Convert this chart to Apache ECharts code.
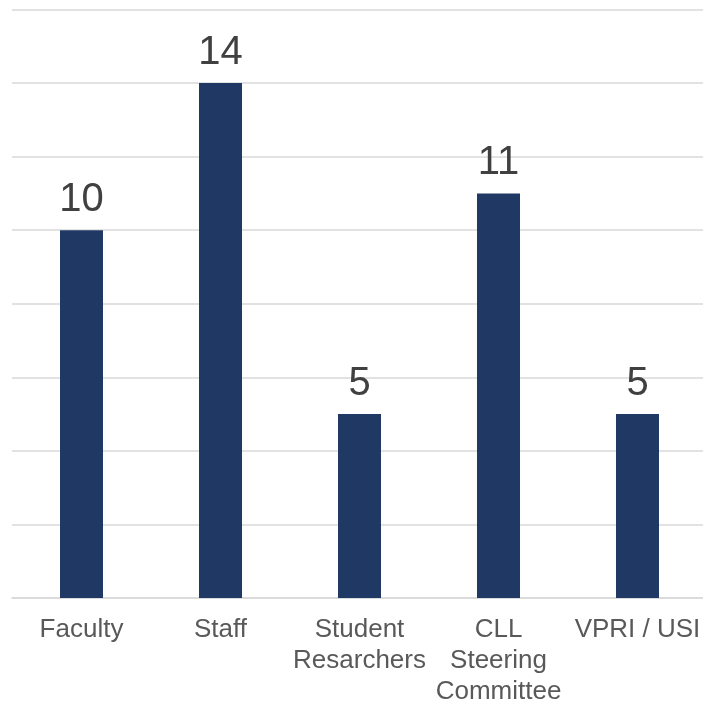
<!DOCTYPE html>
<html>
<head>
<meta charset="utf-8">
<script src="https://cdn.jsdelivr.net/npm/echarts@6/dist/echarts.min.js"></script>
<style>
html,body{margin:0;padding:0;background:#fff;}
#chart{width:703px;height:702px;}
</style>
</head>
<body>
<div id="chart"></div>
<script>
const categories = ["Faculty", "Staff", "Student\nResarchers", "CLL\nSteering\nCommittee", "VPRI / USI"];
const values = [10, 14, 5, 11, 5];

const chart = echarts.init(document.getElementById('chart'), null, {renderer: 'canvas'});
chart.setOption({
  animation: false,
  grid: {left: 12, right: -4, top: 9.5, bottom: 104, containLabel: false, outerBoundsMode: 'none'},
  xAxis: {
    type: 'category',
    data: categories,
    axisLine: {show: true, lineStyle: {color: '#d9d9d9', width: 1.5}},
    axisTick: {show: false},
    axisLabel: {
      color: '#595959',
      fontFamily: 'Liberation Sans, Arial, sans-serif',
      fontSize: 26,
      lineHeight: 31,
      margin: 16,
      interval: 0,
      hideOverlap: false
    }
  },
  yAxis: {
    type: 'value',
    min: 0,
    max: 16,
    interval: 2,
    axisLabel: {show: false},
    axisLine: {show: false},
    axisTick: {show: false},
    splitLine: {lineStyle: {color: '#d9d9d9', width: 1.5}}
  },
  series: [{
    type: 'bar',
    data: values,
    barWidth: 43,
    itemStyle: {color: '#203864'},
    label: {
      show: true,
      position: 'top',
      distance: 10,
      color: '#404040',
      fontFamily: 'Liberation Sans, Arial, sans-serif',
      fontSize: 40
    }
  }]
});
</script>
</body>
</html>
